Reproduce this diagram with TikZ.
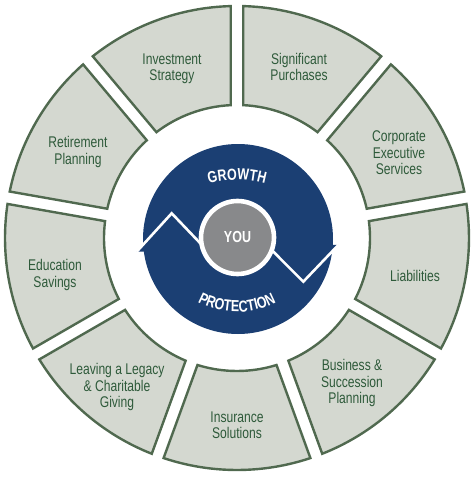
\documentclass[tikz,border=0pt]{standalone}
\usepackage{fontspec}
\setmainfont{Liberation Sans}[FakeStretch=0.78]
\usetikzlibrary{decorations.text}
\definecolor{segfill}{HTML}{D4D8D0}
\definecolor{segline}{HTML}{50694F}
\definecolor{txtgreen}{HTML}{2E5A3A}
\definecolor{blueC}{HTML}{1B3F73}
\definecolor{greyC}{HTML}{88898B}
\newcommand\ringseg[2]{%
  \path[seg] (#1+1.556:232) arc[start angle=#1+1.556, end angle=#2-1.556, radius=232pt]
    -- (#2-2.715:133) arc[start angle=#2-2.715, end angle=#1+2.715, radius=133pt] -- cycle;}
\begin{document}
\begin{tikzpicture}[x=1pt,y=1pt,
  seg/.style={fill=segfill, draw=segline, line width=2.4pt, line join=miter},
  lbl/.style={text=txtgreen, align=center, font=\fontsize{15.5}{16.5}\selectfont, inner sep=0pt},
  wline/.style={draw=white, line width=2.6pt, line join=miter}]
\useasboundingbox (-237,-239) rectangle (237,238);
% outer ring segments
\ringseg{50}{90}
\ringseg{10}{50}
\ringseg{-30}{10}
\ringseg{-70}{-30}
\ringseg{-110}{-70}
\ringseg{-150}{-110}
\ringseg{170}{210}
\ringseg{130}{170}
\ringseg{90}{130}
% labels
\node[lbl] (inv) at (-65,169) {Investment\\Strategy};
\node[lbl] (sig) at (62,171) {Significant\\Purchases};
\node[lbl] (corp) at (162,85) {Corporate\\Executive\\Services};
\node[lbl] (liab) at (178,-38) {Liabilities};
\node[lbl] (bus) at (115,-145) {Business \&\\Succession\\Planning};
\node[lbl] (ins) at (0,-187) {Insurance\\Solutions};
\node[lbl] (leg) at (-120,-149) {Leaving a Legacy\\\& Charitable\\Giving};
\node[lbl] (edu) at (-182,-37) {Education\\Savings};
\node[lbl] (ret) at (-159,86) {Retirement\\Planning};
% central blue disc with arrowheads
\fill[blueC] (1,-1) circle[radius=95pt];
\fill[blueC] (-100.3,-13.7) -- (-65.3,24.7) -- (-30.3,-12) -- cycle;
\fill[blueC] (28,-5.3) -- (66.3,-43.7) -- (101.3,-7) -- cycle;
\path[wline] (-100.3,-13.7) -- (-65.3,24.7) -- (-30.3,-12);
\path[wline] (28,-5.3) -- (66.3,-43.7) -- (101.3,-7);
% centre
\fill[greyC] (0.5,0.5) circle[radius=36pt];
\draw[white, line width=4.6pt] (0.5,0.5) circle[radius=36.5pt];
\node[text=white, font=\bfseries\fontsize{16}{16}\selectfont, inner sep=0pt] (you) at (0.5,1) {YOU};
% curved words
\path[decorate, decoration={text along path, text align=center,
  text={|\bfseries\fontsize{16}{16}\selectfont\color{white}|GROWTH}}]
  (0,-47) ++(118:105) arc[start angle=118, end angle=62, radius=105pt];
\path[decorate, decoration={text along path, text align=center,
  text={|\bfseries\fontsize{16}{16}\selectfont\color{white}|PROTECTION}}]
  (0,10) ++(232:84) arc[start angle=232, end angle=308, radius=84pt];
\end{tikzpicture}
\end{document}
